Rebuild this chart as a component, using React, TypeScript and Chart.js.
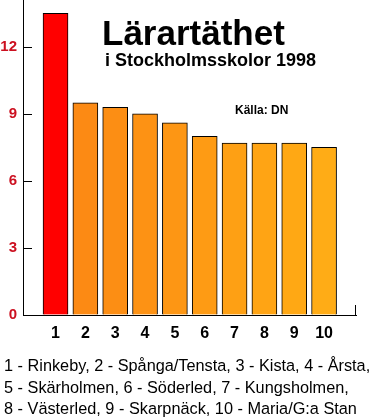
import React, { useEffect, useRef } from "react";
import { Chart, registerables } from "chart.js";

Chart.register(...registerables);

const categories = [1, 2, 3, 4, 5, 6, 7, 8, 9, 10];
const values = [13.5, 9.5, 9.3, 9.0, 8.6, 8.0, 7.7, 7.7, 7.7, 7.5];
const barColors = [
  "#FF0000", "#FC8A14", "#FC8E14", "#FD9214", "#FD9614",
  "#FE9B14", "#FEA014", "#FFA414", "#FFA814", "#FFAC16",
];
const yTicks = [0, 3, 6, 9, 12];
const TITLE = "Lärartäthet";
const SUBTITLE = "i Stockholmsskolor 1998";
const SOURCE = "Källa: DN";
const legendLines = [
  "1 - Rinkeby, 2 - Spånga/Tensta, 3 - Kista, 4 - Årsta,",
  "5 - Skärholmen, 6 - Söderled, 7 - Kungsholmen,",
  "8 - Västerled, 9 - Skarpnäck, 10 - Maria/G:a Stan",
];

const FONT = '"Liberation Sans", Arial, Helvetica, sans-serif';

const overlay = {
  id: "overlay",
  afterDraw(chart: any) {
    const { ctx, chartArea, scales } = chart;
    ctx.save();
    ctx.strokeStyle = "#000";
    ctx.lineWidth = 1;
    yTicks.forEach((v) => {
      if (v === 0) return;
      const y = Math.round(scales.y.getPixelForValue(v)) + 0.5;
      ctx.beginPath();
      ctx.moveTo(chartArea.left, y);
      ctx.lineTo(chartArea.left + 9, y);
      ctx.stroke();
    });
    const rx = Math.round(chartArea.right) - 0.5;
    ctx.beginPath();
    ctx.moveTo(rx, chartArea.bottom);
    ctx.lineTo(rx, chartArea.bottom - 10);
    ctx.stroke();

    ctx.fillStyle = "#000";
    ctx.textAlign = "left";
    ctx.textBaseline = "alphabetic";
    ctx.font = `bold 35px ${FONT}`;
    ctx.fillText(TITLE, 102, 45);
    ctx.font = `bold 18px ${FONT}`;
    ctx.fillText(SUBTITLE, 105, 66);
    ctx.font = `bold 12px ${FONT}`;
    ctx.fillText(SOURCE, 235, 114);
    ctx.font = `16.3px ${FONT}`;
    const baselines = [371, 392.5, 414];
    legendLines.forEach((line, i) => ctx.fillText(line, 4, baselines[i]));
    ctx.restore();
  },
};

const zeroPad = (s: any) => {
  s.paddingTop = 0;
  s.paddingBottom = 0;
  s.paddingLeft = 0;
  s.paddingRight = 0;
};

export default function App() {
  const ref = useRef<HTMLCanvasElement>(null);
  useEffect(() => {
    if (!ref.current) return;
    const chart = new Chart(ref.current, {
      type: "bar",
      data: {
        datasets: [
          {
            data: categories.map((c, i) => ({ x: c, y: values[i] })),
            backgroundColor: barColors,
            borderColor: "#000",
            borderWidth: 1,
            barThickness: 25,
          },
        ],
      },
      options: {
        animation: false,
        responsive: false,
        devicePixelRatio: 1,
        layout: { padding: { left: 0, right: 18, top: 0, bottom: 0 } },
        plugins: { legend: { display: false }, tooltip: { enabled: false } },
        scales: {
          x: {
            type: "linear",
            offset: false,
            min: -0.09,
            max: 11.07,
            afterBuildTicks: (s: any) => {
              s.ticks = categories.map((v) => ({ value: v }));
            },
            afterFit: (s: any) => {
              s.height = 103;
              zeroPad(s);
            },
            grid: { drawOnChartArea: false, drawTicks: false, offset: false },
            border: { display: true, color: "#000", width: 1 },
            ticks: {
              padding: 9,
              color: "#000",
              font: { family: FONT, size: 16, weight: "bold" },
              maxRotation: 0,
              autoSkip: false,
            },
          },
          y: {
            min: 0,
            max: 14.1,
            afterBuildTicks: (s: any) => {
              s.ticks = yTicks.map((v) => ({ value: v }));
            },
            afterFit: (s: any) => {
              s.width = 23;
              zeroPad(s);
            },
            grid: { drawOnChartArea: false, drawTicks: false },
            border: { display: true, color: "#000", width: 1 },
            ticks: {
              padding: 6,
              color: "#CC1020",
              font: { family: FONT, size: 15, weight: "bold" },
            },
          },
        },
      },
      plugins: [overlay],
    } as any);
    return () => chart.destroy();
  }, []);
  return (
    <div style={{ position: "absolute", left: 0, top: 0, width: 374, height: 418, background: "#fff" }}>
      <canvas ref={ref} width={374} height={418} style={{ display: "block" }} />
    </div>
  );
}
